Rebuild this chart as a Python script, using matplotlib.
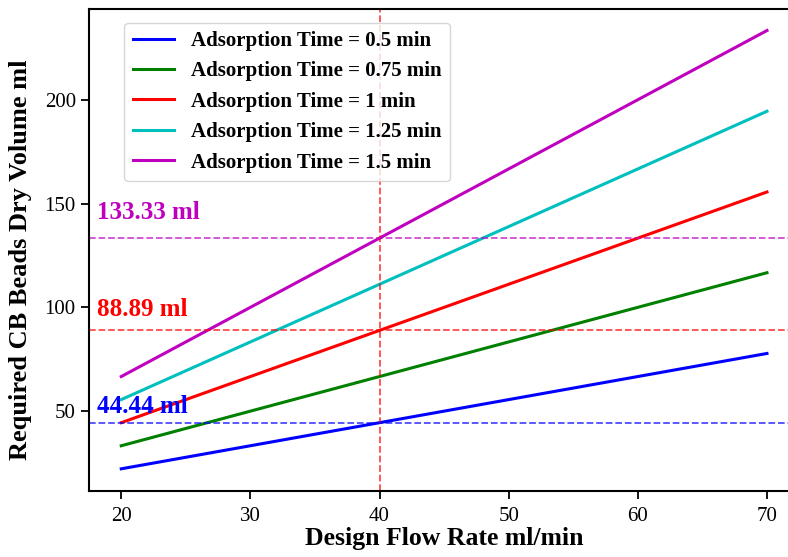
import matplotlib
matplotlib.use("Agg")
import matplotlib.pyplot as plt

plt.rcParams['font.family'] = ['Liberation Serif', 'DejaVu Serif']

# Flow-rate endpoints (ml/min) and required volume (ml) per adsorption time
flow_rates = [20, 70]
adsorption_times = [0.5, 0.75, 1, 1.25, 1.5]
volumes = {
    0.5: [22.22, 77.78],
    0.75: [33.33, 116.67],
    1: [44.44, 155.56],
    1.25: [55.56, 194.44],
    1.5: [66.67, 233.33],
}
line_colors = ['b', 'g', 'r', 'c', 'm']

design_flow = 40
ref_values = [44.44, 88.89, 133.33]
ref_colors = ['b', 'r', 'm']

fig = plt.figure(figsize=(7.88, 5.57), dpi=100)
ax = fig.add_axes([0.1129, 0.119, 0.9014, 0.8656])

for t, c in zip(adsorption_times, line_colors):
    ax.plot(flow_rates, volumes[t], color=c, lw=2.2,
            label=f'Adsorption Time = {t} min')

ax.set_xlim(17.5, 72.5)
ax.set_ylim(11.67, 243.9)

ax.axvline(design_flow, color='r', ls='--', lw=1.3, alpha=0.7)
for v, c in zip(ref_values, ref_colors):
    ax.axhline(v, color=c, ls='--', lw=1.3, alpha=0.7)
    ax.text(18.1, v * 1.05, f'{v:.2f} ml', color=c, fontsize=18,
            fontweight='bold', ha='left', va='bottom')

ax.set_xticks([20, 30, 40, 50, 60, 70])
ax.set_yticks([50, 100, 150, 200])
ax.tick_params(labelsize=15, width=1.3, length=6)
ax.tick_params(axis='x', pad=5.5)
for s in ax.spines.values():
    s.set_linewidth(1.5)

ax.set_xlabel('Design Flow Rate ml/min', fontsize=18.5, fontweight='bold',
              labelpad=1)
ax.set_ylabel('Required CB Beads Dry Volume ml', fontsize=19,
              fontweight='bold')
ax.yaxis.set_label_coords(-0.080, 0.48)

ax.legend(loc='upper left', bbox_to_anchor=(0.05, 0.971),
          prop={'weight': 'bold', 'size': 15},
          borderaxespad=0, framealpha=0.8)

fig.savefig('out.png', dpi=100)
